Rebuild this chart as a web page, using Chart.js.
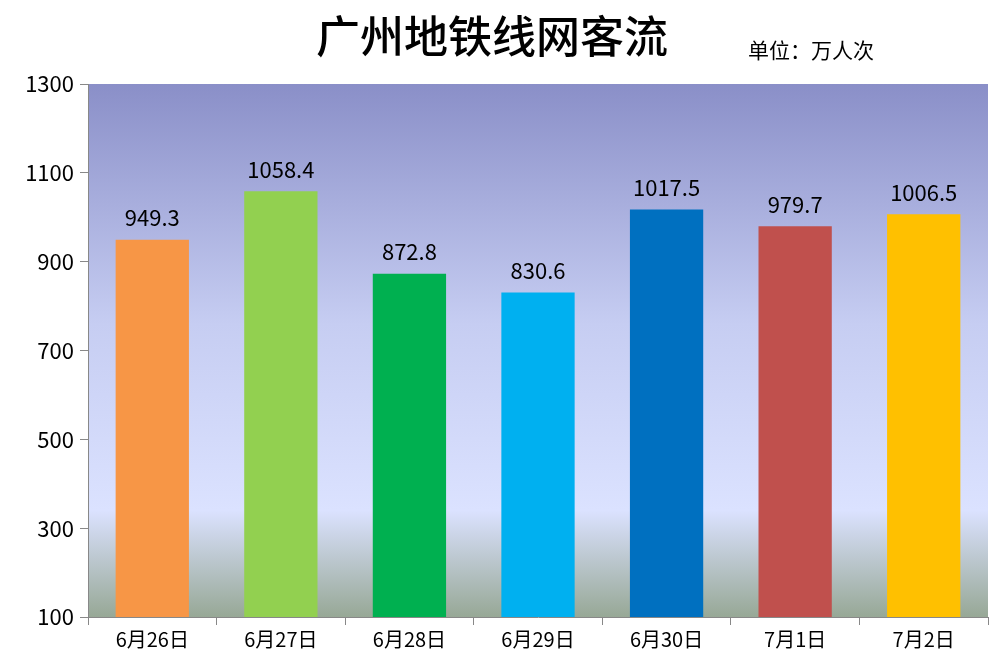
<!DOCTYPE html>
<html>
<head>
<meta charset="utf-8">
<script src="https://cdn.jsdelivr.net/npm/chart.js@4"></script>
<style>
  html, body { margin: 0; padding: 0; background: #fff; }
  #wrap { width: 1000px; height: 672px; position: relative; }
</style>
</head>
<body>
<div id="wrap"><canvas id="c"></canvas></div>
<script>
const categories = ["6月26日", "6月27日", "6月28日", "6月29日", "6月30日", "7月1日", "7月2日"];
const values = [949.3, 1058.4, 872.8, 830.6, 1017.5, 979.7, 1006.5];
const barColors = ["#f79646", "#92d050", "#00b050", "#00b0f0", "#0070c0", "#c0504d", "#ffc000"];
const yTicks = [100, 300, 500, 700, 900, 1100, 1300];

const font = "'Noto Sans CJK SC', 'Open Sans', sans-serif";

// plot area gradient + title + data labels
const decor = {
  id: "decor",
  beforeDraw(chart) {
    const { ctx, chartArea: a } = chart;
    const g = ctx.createLinearGradient(0, a.top, 0, a.bottom);
    g.addColorStop(0, "#8a8fc8");
    g.addColorStop(0.45, "#c6cdf2");
    g.addColorStop(0.8, "#dbe2ff");
    g.addColorStop(1, "#97a896");
    ctx.save();
    ctx.fillStyle = g;
    ctx.fillRect(a.left, a.top, a.right - a.left, a.bottom - a.top);
    ctx.restore();
  },
  afterDatasetsDraw(chart) {
    const { ctx } = chart;
    const meta = chart.getDatasetMeta(0);
    ctx.save();
    ctx.fillStyle = "#000";
    ctx.font = "22px " + font;
    ctx.textAlign = "center";
    ctx.textBaseline = "bottom";
    meta.data.forEach((bar, i) => {
      ctx.fillText(values[i].toFixed(1), bar.x, bar.y - 11);
    });
    ctx.font = "500 44px " + font;
    ctx.textBaseline = "middle";
    ctx.fillText("广州地铁线网客流", 492, 36);
    ctx.font = "21px " + font;
    ctx.textAlign = "left";
    ctx.fillText("单位：万人次", 748, 50);
    ctx.restore();
  }
};

new Chart(document.getElementById("c"), {
  type: "bar",
  data: {
    labels: categories,
    datasets: [{
      data: values,
      backgroundColor: barColors,
      barPercentage: 0.57,
      categoryPercentage: 1
    }]
  },
  options: {
    responsive: true,
    maintainAspectRatio: false,
    animation: false,
    layout: { padding: { top: 84, right: 12, bottom: 0, left: 0 } },
    plugins: { legend: { display: false }, tooltip: { enabled: false } },
    scales: {
      x: {
        afterFit(axis) { axis.height = 55; },
        grid: { display: true, offset: true, drawOnChartArea: false, color: "#888", tickLength: 8 },
        border: { color: "#888" },
        ticks: { color: "#000", font: { size: 20, family: font }, padding: 2 }
      },
      y: {
        min: 100, max: 1300,
        afterBuildTicks(axis) { axis.ticks = yTicks.map(v => ({ value: v })); },
        afterFit(axis) { axis.width = 88; },
        grid: { drawOnChartArea: false, color: "#888", tickLength: 8 },
        border: { color: "#888" },
        ticks: { color: "#000", font: { size: 22, family: font }, padding: 6, callback: v => String(v) }
      }
    }
  },
  plugins: [decor]
});
</script>
</body>
</html>
